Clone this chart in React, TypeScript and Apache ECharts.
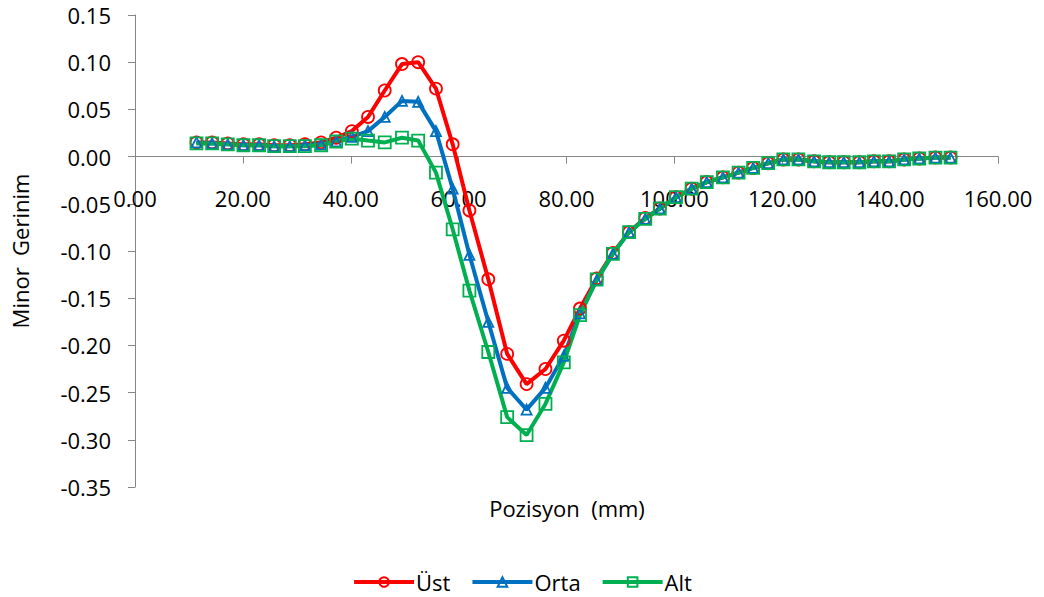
import React, { useEffect, useRef } from 'react';
import * as echarts from 'echarts';

const positions = [11.4, 14.3, 17.2, 20.1, 23.0, 25.8, 28.7, 31.5, 34.5, 37.3, 40.2, 43.2, 46.3, 49.5, 52.5, 55.8, 58.9, 62.0, 65.5, 69.0, 72.6, 76.1, 79.5, 82.5, 85.6, 88.6, 91.6, 94.6, 97.3, 100.3, 103.2, 106.0, 109.0, 111.9, 114.6, 117.4, 120.2, 123.0, 125.9, 128.7, 131.4, 134.3, 137.0, 139.8, 142.6, 145.4, 148.4, 151.2];

const ust = [0.015, 0.015, 0.014, 0.013, 0.013, 0.012, 0.012, 0.013, 0.015, 0.020, 0.027, 0.042, 0.070, 0.098, 0.100, 0.072, 0.013, -0.057, -0.130, -0.209, -0.241, -0.225, -0.195, -0.161, -0.129, -0.102, -0.080, -0.065, -0.055, -0.043, -0.034, -0.027, -0.022, -0.017, -0.012, -0.007, -0.003, -0.003, -0.005, -0.006, -0.006, -0.006, -0.005, -0.005, -0.003, -0.002, -0.001, -0.001];

const orta = [0.015, 0.014, 0.013, 0.012, 0.012, 0.011, 0.011, 0.012, 0.013, 0.016, 0.021, 0.027, 0.042, 0.059, 0.058, 0.027, -0.034, -0.104, -0.175, -0.245, -0.268, -0.245, -0.211, -0.166, -0.131, -0.103, -0.080, -0.066, -0.055, -0.043, -0.034, -0.027, -0.022, -0.017, -0.012, -0.007, -0.003, -0.003, -0.005, -0.006, -0.006, -0.006, -0.005, -0.005, -0.003, -0.002, -0.001, -0.001];

const alt = [0.014, 0.014, 0.013, 0.012, 0.012, 0.011, 0.011, 0.011, 0.012, 0.016, 0.019, 0.017, 0.015, 0.020, 0.017, -0.017, -0.077, -0.142, -0.207, -0.276, -0.295, -0.262, -0.218, -0.168, -0.130, -0.103, -0.080, -0.066, -0.055, -0.043, -0.034, -0.027, -0.022, -0.017, -0.012, -0.007, -0.003, -0.003, -0.005, -0.006, -0.006, -0.006, -0.005, -0.005, -0.003, -0.002, -0.001, -0.001];

const seriesNames = ['Üst', 'Orta', 'Alt'];
const xTitle = 'Pozisyon  (mm)';
const yTitle = 'Minor  Gerinim';

export default function App() {
  const ref = useRef<HTMLDivElement>(null);
  useEffect(() => {
    const chart = echarts.init(ref.current!, undefined, { renderer: 'svg' });
    const font = 'Open Sans';
    const fs = 22;
    const pair = (ys: number[]) => positions.map((x, i) => [x, ys[i]]);
    const axisColor = '#868686';
    const gridTop = 15;
    const gridBottomPx = 487;
    const yMin = -0.35;
    const yMax = 0.15;
    const zeroPx = gridTop + ((yMax - 0) / (yMax - yMin)) * (gridBottomPx - gridTop);
    const mk = (name: string, data: number[], color: string, symbol: string, size: number) => ({
      name,
      type: 'line',
      data: pair(data),
      symbol,
      symbolSize: size,
      lineStyle: { color, width: 4 },
      itemStyle: { color: 'rgba(255,255,255,0)', borderColor: color, borderWidth: 1.8 },
      emphasis: { disabled: true },
    });
    chart.setOption({
      animation: false,
      textStyle: { fontFamily: font },
      grid: { left: 135, right: 46, top: gridTop, bottom: 597 - gridBottomPx, containLabel: false },
      xAxis: {
        type: 'value',
        position: 'bottom',
        offset: -(gridBottomPx - zeroPx),
        min: 0,
        max: 160,
        interval: 20,
        axisLine: { show: true, onZero: false, lineStyle: { color: axisColor, width: 1 } },
        axisTick: { show: true, length: 7, lineStyle: { color: axisColor } },
        axisLabel: {
          margin: 30,
          color: '#000',
          fontSize: fs,
          fontFamily: font,
          formatter: (v: number) => v.toFixed(2),
        },
        splitLine: { show: false },
      },
      yAxis: {
        type: 'value',
        min: yMin,
        max: yMax,
        interval: 0.05,
        name: yTitle,
        nameLocation: 'middle',
        nameGap: 104,
        nameTextStyle: { color: '#000', fontSize: fs, fontFamily: font },
        axisLine: { show: true, onZero: false, lineStyle: { color: axisColor, width: 1 } },
        axisTick: { show: true, length: 7, lineStyle: { color: axisColor } },
        axisLabel: {
          margin: 24,
          color: '#000',
          fontSize: fs,
          fontFamily: font,
          formatter: (v: number) => (Math.abs(v) < 1e-9 ? 0 : v).toFixed(2),
        },
        splitLine: { show: false },
      },
      legend: {
        data: seriesNames,
        left: 'center',
        top: 566,
        itemWidth: 60,
        itemHeight: 12,
        itemGap: 20,
        lineStyle: { width: 4 },
        textStyle: { color: '#000', fontSize: fs, fontFamily: font, padding: [0, 0, 0, -3] },
      },
      graphic: [
        {
          type: 'text',
          x: 567,
          y: 508,
          style: {
            text: xTitle,
            fill: '#000',
            font: `${fs}px "${font}"`,
            textAlign: 'center',
            textVerticalAlign: 'middle',
          },
        },
      ],
      series: [
        mk(seriesNames[0], ust, '#FF0000', 'circle', 12),
        mk(seriesNames[1], orta, '#0070C0', 'triangle', 10),
        mk(seriesNames[2], alt, '#00B050', 'rect', 12),
      ],
    });
    return () => chart.dispose();
  }, []);
  return (
    <div
      ref={ref}
      style={{ position: 'absolute', left: 0, top: 0, width: 1044, height: 597, background: '#fff' }}
    />
  );
}
